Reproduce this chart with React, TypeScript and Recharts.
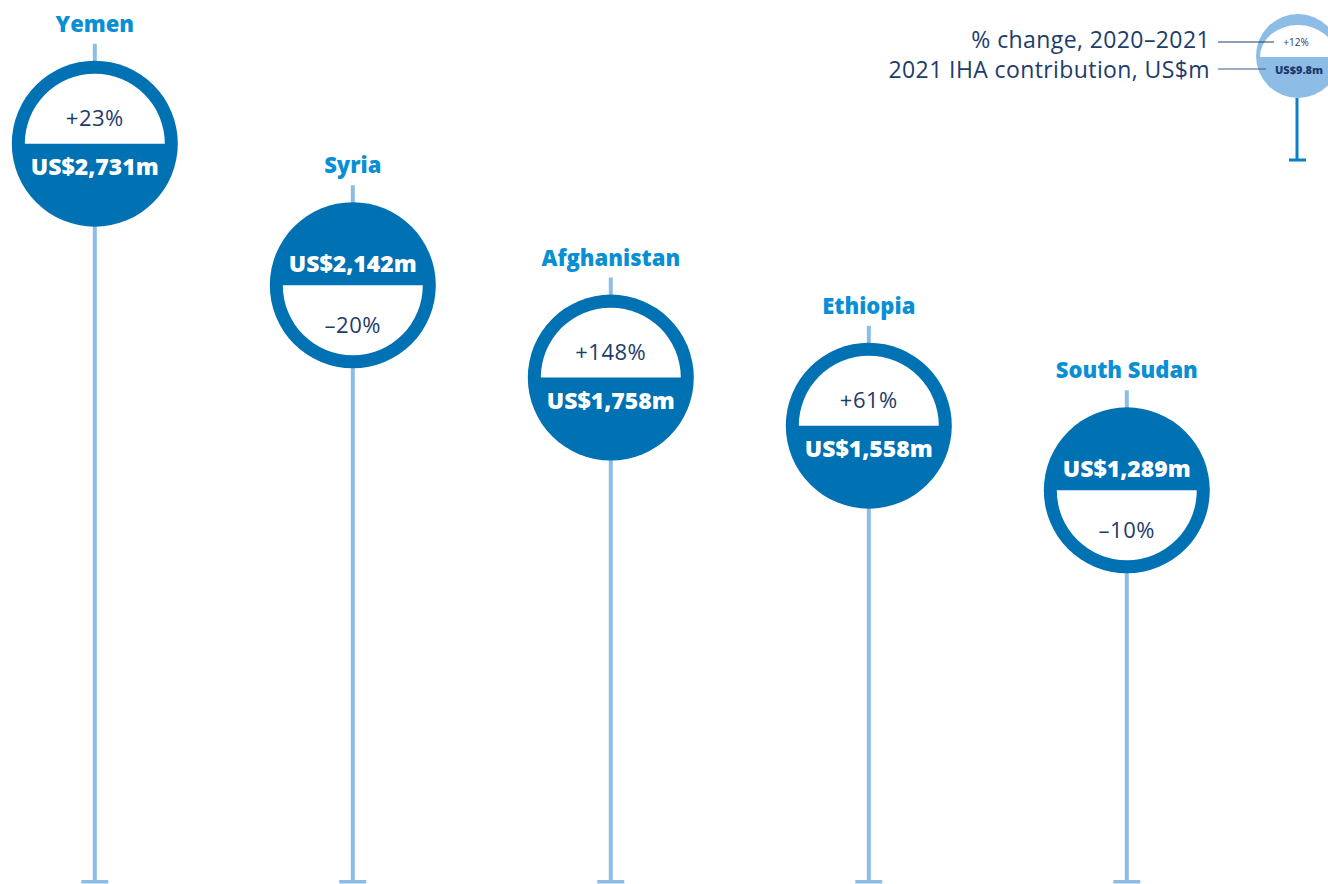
import React from 'react';
import { ComposedChart, Bar, XAxis, YAxis, Customized } from 'recharts';

const countries = ['Yemen', 'Syria', 'Afghanistan', 'Ethiopia', 'South Sudan'];
const contributions = [2731, 2142, 1758, 1558, 1289];
const changes = [23, -20, 148, 61, -10];

const legendChange = 12;
const legendContribution = 9.8;
const legendChangeLabel = '% change, 2020\u20132021';
const legendValueLabel = '2021 IHA contribution, US$m';

const STEM_FLOOR = -336;
const Y_MAX = 3000;

const data = countries.map((c, i) => ({
  country: c,
  value: contributions[i],
  change: changes[i],
  range: [STEM_FLOOR, contributions[i]],
}));

const FONT = "'Open Sans', 'DejaVu Sans', sans-serif";
const DARK = '#0071B3';
const LABEL = '#0A8FD4';
const STEM = '#8DBDE6';
const NAVY = '#1D3C6B';

const fmtValue = (v: number) => `US$${v.toLocaleString('en-US')}m`;
const fmtChange = (c: number) => (c >= 0 ? `+${c}%` : `\u2013${Math.abs(c)}%`);

function Lollipop(props: any) {
  const { x, y, width, height, payload } = props;
  const cx = x + width / 2;
  const cy = y;
  const bottom = y + height;
  const R = 83;
  const r = 70;
  const up = payload.change >= 0;
  const whitePath = `M ${cx - r} ${cy} A ${r} ${r} 0 0 ${up ? 1 : 0} ${cx + r} ${cy} Z`;
  return (
    <g>
      <line x1={cx} x2={cx} y1={cy - 100} y2={bottom} stroke={STEM} strokeWidth={4} />
      <rect x={cx - 13.5} y={bottom - 1} width={27} height={3.5} fill={STEM} />
      <text
        x={cx}
        y={cy - 112}
        textAnchor="middle"
        fontFamily={FONT}
        fontWeight={800}
        fontSize={22}
        fill={LABEL}
      >
        {payload.country}
      </text>
      <circle cx={cx} cy={cy} r={R} fill={DARK} />
      <path d={whitePath} fill="#ffffff" />
      <text
        x={cx}
        y={up ? cy + 22 : cy - 22}
        textAnchor="middle"
        dominantBaseline="central"
        fontFamily={FONT}
        fontWeight={800}
        fontSize={23}
        fill="#ffffff"
      >
        {fmtValue(payload.value)}
      </text>
      <text
        x={cx}
        y={up ? cy - 27 : cy + 39}
        textAnchor="middle"
        dominantBaseline="central"
        fontFamily={FONT}
        fontWeight={400}
        fontSize={22}
        letterSpacing={0.5}
        fill={NAVY}
      >
        {fmtChange(payload.change)}
      </text>
    </g>
  );
}

function LegendKey() {
  const cx = 1298;
  const cy = 56;
  const R = 42;
  const r = 35;
  return (
    <g>
      <line x1={cx - 1} x2={cx - 1} y1={cy + R} y2={160} stroke="#0B80C6" strokeWidth={3} />
      <rect x={1289} y={158.5} width={17} height={3} fill="#0B80C6" />
      <circle cx={cx} cy={cy} r={R} fill={STEM} />
      <path d={`M ${cx - r - 3} ${cy + 1} A ${r + 3} ${r - 3} 0 0 1 ${cx + r + 3} ${cy + 1} Z`} fill="#ffffff" />
      <text x={cx - 2} y={42} textAnchor="middle" dominantBaseline="central" fontFamily={FONT} fontSize={10} fill={NAVY}>
        {fmtChange(legendChange)}
      </text>
      <text x={cx + 1} y={69} textAnchor="middle" dominantBaseline="central" fontFamily={FONT} fontWeight={800} fontSize={11} fill={NAVY}>
        {`US$${legendContribution}m`}
      </text>
      <line x1={1218} x2={1274} y1={42} y2={42} stroke={NAVY} strokeWidth={1} />
      <line x1={1218} x2={1266} y1={69} y2={69} stroke="#3d5a80" strokeWidth={1} />
      <text x={1210} y={48} textAnchor="end" fontFamily={FONT} fontWeight={400} fontSize={23} letterSpacing={0.4} fill={NAVY}>
        {legendChangeLabel}
      </text>
      <text x={1210} y={78} textAnchor="end" fontFamily={FONT} fontWeight={400} fontSize={23} letterSpacing={0.4} fill={NAVY}>
        {legendValueLabel}
      </text>
    </g>
  );
}

export default function App() {
  return (
    <div style={{ position: 'absolute', left: 0, top: 0, width: 1328, height: 884, background: '#fff' }}>
      <ComposedChart
        width={1328}
        height={884}
        data={data}
        margin={{ top: 79, right: 72, bottom: 3, left: -34 }}
      >
        <XAxis dataKey="country" hide />
        <YAxis hide domain={[STEM_FLOOR, Y_MAX]} />
        <Bar dataKey="range" shape={<Lollipop />} isAnimationActive={false} />
        <Customized component={<LegendKey />} />
      </ComposedChart>
    </div>
  );
}
